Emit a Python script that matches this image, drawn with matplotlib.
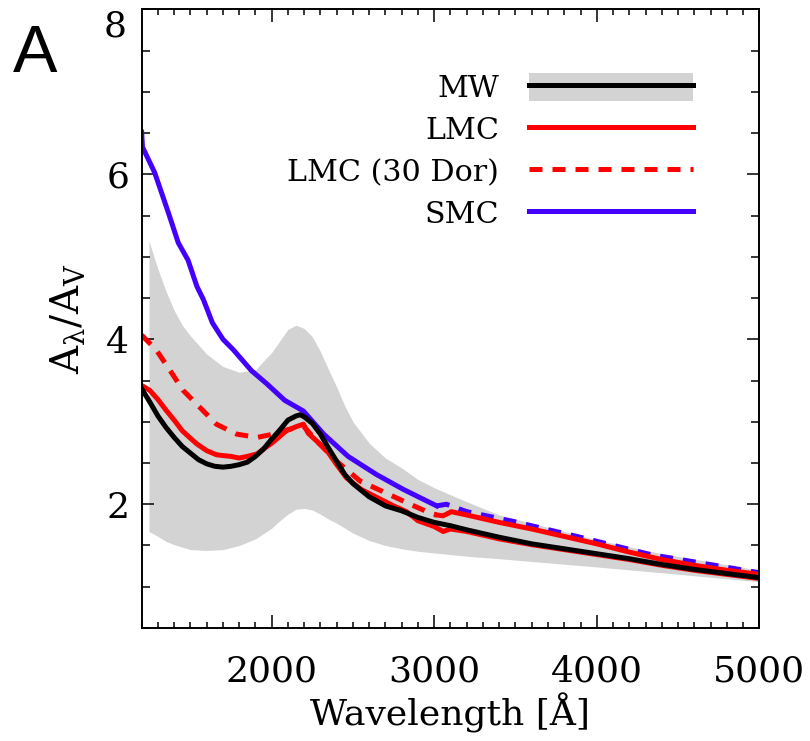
import matplotlib
matplotlib.use("Agg")
import matplotlib.pyplot as plt
from matplotlib.lines import Line2D
from matplotlib.patches import Patch
from matplotlib.ticker import MultipleLocator

plt.rcParams['font.family'] = 'DejaVu Serif'
plt.rcParams['mathtext.fontset'] = 'dejavuserif'

# MW average curve (black)
mw_wl = [1200, 1250, 1300, 1350, 1400, 1450, 1500, 1550, 1600, 1650, 1700, 1750, 1800,
         1850, 1900, 1950, 2000, 2050, 2100, 2150, 2175, 2200, 2250, 2300, 2350, 2400,
         2450, 2500, 2600, 2700, 2800, 2900, 3000, 3100, 3200, 3400, 3600, 3800, 4000,
         4200, 4400, 4600, 4800, 5000]
mw_a = [3.40, 3.24, 3.07, 2.93, 2.81, 2.70, 2.62, 2.54, 2.49, 2.46, 2.45, 2.46, 2.48,
        2.51, 2.58, 2.67, 2.79, 2.90, 3.02, 3.07, 3.085, 3.06, 2.98, 2.85, 2.68, 2.52,
        2.36, 2.25, 2.09, 1.98, 1.92, 1.84, 1.78, 1.74, 1.69, 1.60, 1.52, 1.46, 1.40,
        1.34, 1.27, 1.21, 1.16, 1.11]

# MW range (grey band)
band_wl = [1245, 1300, 1350, 1400, 1450, 1500, 1600, 1700, 1800, 1900, 2000, 2050, 2100,
           2150, 2200, 2250, 2300, 2350, 2400, 2450, 2500, 2600, 2700, 2800, 2900, 3000,
           3200, 3400, 3700, 4000, 4400, 5000]
band_hi = [5.19, 4.85, 4.58, 4.35, 4.17, 4.04, 3.82, 3.67, 3.60, 3.63, 3.84, 3.98, 4.12,
           4.17, 4.13, 4.03, 3.85, 3.63, 3.42, 3.19, 3.00, 2.74, 2.56, 2.44, 2.30, 2.20,
           2.03, 1.87, 1.72, 1.57, 1.40, 1.20]
band_lo = [1.67, 1.61, 1.55, 1.51, 1.48, 1.45, 1.44, 1.45, 1.50, 1.58, 1.71, 1.80, 1.88,
           1.94, 1.95, 1.93, 1.88, 1.82, 1.77, 1.71, 1.65, 1.56, 1.50, 1.46, 1.43, 1.41,
           1.37, 1.34, 1.29, 1.24, 1.17, 1.06]

# LMC average (red solid)
lmc_wl = [1200, 1250, 1300, 1350, 1400, 1450, 1500, 1540, 1600, 1660, 1700, 1750, 1800,
          1850, 1910, 1950, 2000, 2030, 2090, 2150, 2195, 2225, 2280, 2340, 2400, 2460,
          2550, 2650, 2750, 2830, 2900, 3000, 3055, 3100, 3200, 3400, 3600, 3800, 4000,
          4200, 4400, 4600, 4800, 5000]
lmc_a = [3.44, 3.38, 3.27, 3.14, 3.02, 2.89, 2.80, 2.73, 2.65, 2.60, 2.59, 2.58, 2.56,
         2.58, 2.61, 2.67, 2.74, 2.79, 2.89, 2.94, 2.97, 2.86, 2.76, 2.65, 2.48, 2.32,
         2.18, 2.08, 1.98, 1.91, 1.80, 1.73, 1.67, 1.70, 1.67, 1.58, 1.51, 1.45, 1.39,
         1.33, 1.26, 1.20, 1.15, 1.10]

# LMC 30 Dor: UV part (dashed) and optical part (solid)
dor_uv_wl = [1200, 1290, 1375, 1455, 1560, 1660, 1785, 1910, 2010, 2070, 2195, 2275,
             2400, 2545, 2710, 2830, 2955, 3015]
dor_uv_a = [4.05, 3.87, 3.62, 3.38, 3.17, 2.97, 2.85, 2.81, 2.85, 2.89, 2.95, 2.77,
            2.52, 2.28, 2.13, 2.02, 1.91, 1.87]
dor_opt_wl = [3015, 3055, 3105, 3200, 3400, 3600, 3800, 4000, 4200, 4400, 4600, 4800, 5000]
dor_opt_a = [1.87, 1.86, 1.91, 1.87, 1.78, 1.70, 1.61, 1.52, 1.42, 1.33, 1.26, 1.20, 1.15]

# SMC: UV part (solid) and optical part (dashed)
smc_uv_wl = [1200, 1205, 1280, 1365, 1425, 1485, 1540, 1580, 1635, 1700, 1765, 1875,
             1970, 2080, 2195, 2320, 2470, 2645, 2810, 3005, 3015]
smc_uv_a = [6.51, 6.33, 6.02, 5.53, 5.17, 4.96, 4.64, 4.48, 4.20, 4.00, 3.87, 3.62,
            3.46, 3.26, 3.13, 2.85, 2.58, 2.36, 2.18, 1.99, 1.98]
smc_opt_wl = [3015, 3075, 3200, 3345, 3490, 3920, 4330, 5000]
smc_opt_a = [1.98, 2.00, 1.91, 1.85, 1.79, 1.59, 1.39, 1.17]

grey = '#d3d3d3'
red = '#ff0000'
blue = '#4400ff'
lw = 3.6

fig = plt.figure(figsize=(8.1, 7.41), dpi=100)
ax = fig.add_axes([0.1749, 0.1525, 0.7625, 0.835])

ax.fill_between(band_wl, band_lo, band_hi, color=grey, lw=0)
ax.plot(smc_uv_wl, smc_uv_a, color=blue, lw=lw)
ax.plot(smc_opt_wl, smc_opt_a, color=blue, lw=lw, ls=(0, (2.6, 2.0)))
ax.plot(dor_uv_wl, dor_uv_a, color=red, lw=lw, ls=(0, (2.6, 2.0)))
ax.plot(dor_opt_wl, dor_opt_a, color=red, lw=lw)
ax.plot(lmc_wl, lmc_a, color=red, lw=lw)
ax.plot(mw_wl, mw_a, color='black', lw=lw)

ax.set_xlim(1200, 5000)
ax.set_ylim(0.5, 8)
ax.xaxis.set_major_locator(MultipleLocator(1000))
ax.xaxis.set_minor_locator(MultipleLocator(100))
ax.set_yticks([2, 4, 6])
ax.yaxis.set_minor_locator(MultipleLocator(0.5))
ax.tick_params(which='both', direction='in', top=True, right=True, width=1.1,
               labelsize=26)
ax.tick_params(axis='x', which='major', length=9.5, pad=19)
ax.tick_params(axis='x', which='minor', length=4.5)
ax.tick_params(axis='y', which='major', length=8.5, pad=9)
ax.tick_params(axis='y', which='minor', length=5.5)
for s in ax.spines.values():
    s.set_linewidth(1.4)

# top label "8" sits below its tick, as in the original
ax.text(-0.024, 8, '8', transform=ax.get_yaxis_transform(), ha='right', va='top',
        fontsize=26)

ax.set_xlabel('Wavelength [Å]', fontsize=26, labelpad=3)
ax.set_ylabel(r'$\mathrm{A_\lambda/A_V}$', fontsize=28, labelpad=14)

handles = [(Patch(facecolor=grey, edgecolor='none'), Line2D([], [], color='black', lw=lw)),
           Line2D([], [], color=red, lw=lw),
           Line2D([], [], color=red, lw=lw, ls=(0, (2.6, 2.0))),
           Line2D([], [], color=blue, lw=lw)]
labels = ['MW', 'LMC', 'LMC (30 Dor)', 'SMC']
ax.legend(handles, labels, loc='upper right', bbox_to_anchor=(0.8927, 0.897),
          frameon=False, markerfirst=False, fontsize=21.7, handlelength=5.43,
          handleheight=1.03, handletextpad=1.0, labelspacing=0.40, borderpad=0,
          borderaxespad=0)

fig.text(13 / 810, 1 - 72 / 741, 'A', fontsize=48, family='Liberation Sans',
         va='baseline', ha='left')

fig.savefig('out.png', dpi=100)
